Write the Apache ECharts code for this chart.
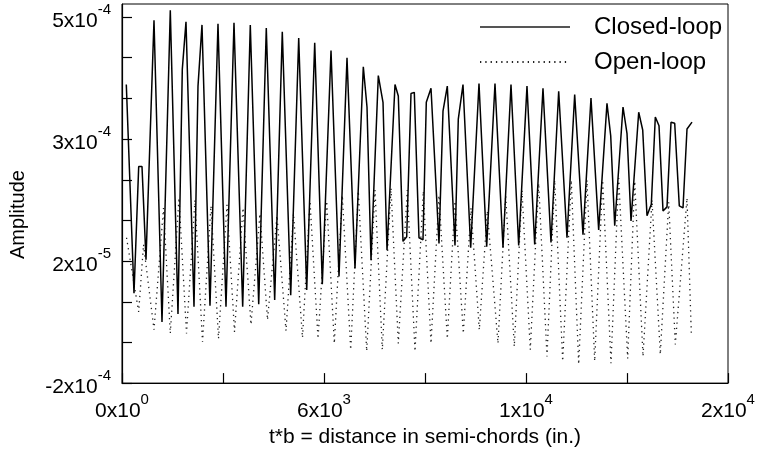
<!DOCTYPE html>
<html>
<head>
<meta charset="utf-8">
<script src="https://cdn.jsdelivr.net/npm/echarts@6/dist/echarts.min.js"></script>
<style>html,body{margin:0;padding:0;background:#fff}#c{width:761px;height:453px}</style>
</head>
<body>
<div id="c"></div>
<script>
// x: t*b distance in semi-chords; y: amplitude in units of 1e-4 (axis as drawn)
const closedX = [142,396,551,660,792,1056,1320,1594,1848,1990,2112,2376,2508,2640,2904,3168,3432,3696,3983,4234,4512,4762,5039,5290,5568,5832,6096,6360,6611,6898,7162,7426,7690,7964,8086,8218,8459,8614,8746,9010,9119,9274,9396,9538,9647,9802,9934,10043,10198,10462,10594,10736,10990,11099,11254,11508,11782,12036,12310,12574,12838,13092,13366,13620,13894,14158,14412,14686,14940,15214,15478,15732,16006,16129,16261,16535,16667,16799,17053,17185,17327,17469,17601,17723,17855,17987,18119,18241,18393,18515,18647,18812];
const closedY = [3.71,-0.28,2.14,2.14,0.36,4.94,-0.83,5.13,-0.68,4.00,4.91,-0.54,3.68,4.85,-0.52,4.87,-0.54,4.89,-0.54,4.85,-0.49,4.79,-0.41,4.72,-0.32,4.60,-0.22,4.51,-0.11,4.36,0.04,4.22,0.19,4.05,3.28,0.35,3.88,3.37,0.54,3.71,3.49,0.71,0.80,3.54,3.56,0.78,0.74,3.37,3.64,0.67,3.20,3.68,0.63,3.05,3.71,0.59,3.73,0.61,3.73,0.59,3.71,0.63,3.68,0.65,3.64,0.69,3.58,0.78,3.52,0.84,3.45,0.93,3.35,2.73,1.01,3.28,2.77,1.10,3.18,2.84,1.20,1.42,3.09,2.92,1.29,1.37,2.99,2.97,1.39,1.35,2.86,2.99];
const openX = [149,551,710,1056,1370,1594,1881,2129,2409,2657,2937,3185,3465,3713,3993,4257,4554,4802,5116,5413,5660,5957,6205,6469,6756,7007,7271,7548,7799,8076,8350,8591,8878,9119,9416,9670,9944,10198,10462,10736,10990,11264,11518,11792,12056,12409,12663,12947,13201,13475,13752,14026,14280,14544,14828,15072,15346,15600,15864,16138,16392,16689,16921,17195,17492,17766,18043,18261,18647,18789];
const openY = [0.78,-0.64,0.65,-0.98,1.35,-1.05,1.54,-1.05,1.50,-1.21,1.39,-1.15,1.41,-1.02,1.35,-0.88,1.24,-0.79,1.20,-1.00,1.24,-1.13,1.48,-1.15,1.48,-1.24,1.59,-1.36,1.67,-1.39,1.69,-1.36,1.73,-1.24,1.69,-1.39,1.67,-1.24,1.59,-1.15,1.48,-1.05,1.35,-0.98,1.29,-1.24,1.59,-1.30,1.69,-1.36,1.82,-1.49,1.88,-1.58,1.88,-1.64,1.88,-1.58,1.88,-1.62,1.92,-1.53,1.86,-1.49,1.50,-1.45,1.46,-1.26,1.54,-1.05];

const seriesNames = ['Closed-loop', 'Open-loop'];
const xTickValues = [0, 20000/6, 40000/6, 10000, 80000/6, 100000/6, 20000];
const xTickLabels = [['0x10','0'], null, ['6x10','3'], null, ['1x10','4'], null, ['2x10','4']];
const yTickValues = [-2, -2+7/9, -2+14/9, -2+21/9, -2+28/9, -2+35/9, -2+42/9, -2+49/9, -2+56/9, 5];
const yTickLabels = [['-2x10','-4'], null, null, ['2x10','-5'], null, null, ['3x10','-4'], null, null, ['5x10','-4']];
const xTitle = 't*b = distance in semi-chords (in.)';
const yTitle = 'Amplitude';

const FONT = "'Liberation Sans', Arial, Helvetica, sans-serif";
const rich = {
  b: {fontSize: 21, fontFamily: FONT, color: '#000', lineHeight: 30, verticalAlign: 'bottom'},
  s: {fontSize: 15, fontFamily: FONT, color: '#000', lineHeight: 15, verticalAlign: 'top'}
};
const fmt = (vals, labels) => (v) => {
  let k = -1;
  for (let i = 0; i < vals.length; i++) if (Math.abs(vals[i] - v) < 1e-6 * Math.max(1, Math.abs(v))) k = i;
  const t = k >= 0 ? labels[k] : null;
  return t ? '{b|' + t[0] + '}{s|' + t[1] + '}' : '';
};

const chart = echarts.init(document.getElementById('c'), null, {renderer: 'canvas'});
chart.setOption({
  animation: false,
  backgroundColor: '#fff',
  grid: {left: 122, right: 33, top: 4, bottom: 66, show: true, borderColor: '#000', borderWidth: 1},
  legend: {
    orient: 'vertical', left: 474, top: 0, padding: 5, itemWidth: 90, itemHeight: 14, itemGap: -9,
    itemStyle: {opacity: 0},
    textStyle: {fontSize: 24, fontFamily: FONT, color: '#000', lineHeight: 26, padding: [18, 0, 0, 19]},
    data: [{name: seriesNames[0], lineStyle: {color: '#555'}}, {name: seriesNames[1]}]
  },
  xAxis: {
    type: 'value', min: 0, max: 20000, interval: 20000/6,
    splitLine: {show: false},
    axisLine: {onZero: false, lineStyle: {color: '#000', width: 1.2}},
    axisTick: {inside: true, length: 10, lineStyle: {color: '#000', width: 1.2}},
    axisLabel: {margin: 9, formatter: fmt(xTickValues, xTickLabels), rich: rich, showMinLabel: true, showMaxLabel: true},
    name: xTitle, nameLocation: 'middle', nameGap: 40,
    nameTextStyle: {fontSize: 21, fontFamily: FONT, color: '#000'}
  },
  yAxis: {
    type: 'value', min: -2, max: 5.25,
    splitLine: {show: false},
    axisLine: {onZero: false, lineStyle: {color: '#000', width: 1.2}},
    axisTick: {inside: true, length: 10, customValues: yTickValues, lineStyle: {color: '#000', width: 1.2}},
    axisLabel: {margin: 11, customValues: yTickValues, formatter: fmt(yTickValues, yTickLabels), rich: rich, showMinLabel: true, showMaxLabel: true},
    name: yTitle, nameLocation: 'middle', nameGap: 94,
    nameTextStyle: {fontSize: 20, fontFamily: FONT, color: '#000', padding: [0, 42, 0, 0]}
  },
  series: [
    {
      name: seriesNames[0], type: 'line', symbol: 'none', showSymbol: false,
      data: closedX.map((x, i) => [x, closedY[i]]),
      itemStyle: {color: '#000'},
      lineStyle: {color: '#000', width: 1.5}, z: 3
    },
    {
      name: seriesNames[1], type: 'line', symbol: 'none', showSymbol: false,
      data: openX.map((x, i) => [x, openY[i]]),
      itemStyle: {color: '#222'},
      lineStyle: {color: '#222', width: 1.3, type: [1.3, 4]}, z: 2
    }
  ]
});
</script>
</body>
</html>
